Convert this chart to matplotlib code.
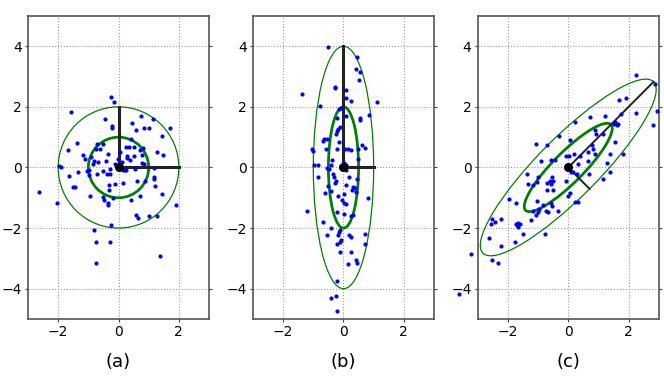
import numpy as np
import matplotlib.pyplot as plt
from matplotlib.patches import Ellipse

# panel (a): isotropic cloud
ax_x = [-0.26, -0.14, -1.59, -0.46, -0.20, -0.20, 0.45, 0.74, 1.14, 1.71, 0.59, 0.86, 1.01,
        1.44, -1.38, -1.66, -0.73, -0.53, -0.60, 0.43, 0.26, 0.36, 0.51, 0.82, 0.71, 1.29,
        1.49, -1.19, -1.10, -0.90, -0.74, -0.35, 0.05, -0.03, 0.29, 0.29, 0.52, 0.37, 0.79,
        0.77, 0.86, 0.13, -0.12, -0.42, -0.69, -0.80, -0.84, -1.96, -1.91, -1.33, -1.05,
        -0.99, -0.97, -0.73, -0.51, -0.37, -0.27, -0.29, 0.14, 0.20, 0.26, 0.56, 1.18, 1.18,
        1.18, -1.63, -1.51, -1.43, -0.32, -0.12, 0.14, 0.62, 0.87, 1.22, -0.32, -0.95, -0.52,
        -0.48, -0.18, 0.70, 0.43, -0.34, -0.36, 1.45, 1.91, -2.63, -2.05, 0.59, 0.65, 1.00,
        1.27, -0.25, -0.82, -0.74, -0.29, -0.75, 1.38]
ay_y = [2.33, 2.17, 1.82, 1.61, 1.38, 1.29, 1.48, 1.70, 1.61, 1.29, 1.25, 1.29, 1.29,
        1.04, 0.81, 0.56, 0.78, 0.78, 0.61, 0.93, 0.69, 0.69, 0.69, 0.64, 0.59, 0.50,
        0.41, 0.40, 0.27, 0.36, 0.60, 0.44, 0.51, 0.28, 0.38, 0.31, 0.38, 0.24, 0.42,
        0.14, 0.13, 0.18, 0.12, 0.20, 0.19, 0.22, 0.12, 0.04, 0.03, -0.14, -0.11,
        -0.09, -0.25, -0.22, -0.11, -0.20, -0.20, -0.05, -0.08, -0.10, -0.10, -0.05, -0.03, -0.30,
        -0.38, -0.28, -0.64, -0.64, -0.59, -0.55, -0.51, -0.45, -0.46, -0.61, -0.76, -0.93, -0.98,
        -1.08, -1.02, -0.95, -1.09, -1.17, -1.25, -0.87, -1.24, -0.80, -1.16, -1.57, -1.68, -1.61,
        -1.60, -1.91, -2.06, -2.45, -2.45, -3.15, -2.93]

# panel (b): stretched along y
bx_x = [-0.51, 0.46, 0.43, 0.56, 0.53, -0.29, -0.29, 0.09, -1.37, 0.09, 0.26, 1.12, -0.78,
        -0.15, -0.09, 0.07, 0.85, -0.20, 0.56, 0.55, -0.11, -0.18, -0.22, -0.24, -0.66, -0.53,
        -0.69, -0.16, 0.62, -0.59, -0.21, 0.04, 0.14, 0.24, 0.49, 0.71, -1.04, -1.02, 0.47,
        -0.37, -0.99, -0.85, -0.40, -0.54, -0.48, 0.03, 0.09, 0.09, 0.18, -0.86, -0.34, -0.30,
        -0.26, -0.27, 0.46, 0.07, -0.51, 0.33, 0.37, 0.40, 0.29, -0.62, -0.40, 0.02, -0.18,
        0.81, -0.05, 0.03, 0.08, -1.20, -0.21, 0.03, 0.24, 0.31, -0.69, -0.42, -0.11, -0.15,
        -0.55, -0.18, 0.18, 0.26, 0.70, 0.70, -0.07, -0.11, -0.21, -0.12, 0.25, 0.40, 0.46,
        0.15, -0.20, -0.40, -0.25, -0.22]
by_y = [3.96, 3.65, 3.24, 3.15, 2.88, 2.66, 2.62, 2.54, 2.44, 2.30, 2.19, 2.15, 2.04,
        1.94, 1.97, 1.71, 1.73, 1.64, 1.64, 1.56, 1.33, 1.26, 1.19, 1.12, 0.95, 0.93,
        0.86, 0.83, 0.73, 0.62, 0.61, 0.62, 0.61, 0.56, 0.61, 0.64, 0.60, 0.54, 0.28,
        0.24, 0.09, 0.07, 0.09, -0.02, -0.06, 0.14, 0.07, -0.09, -0.30, -0.31, -0.23, -0.30,
        -0.45, -0.50, -0.38, -0.57, -0.60, -0.63, -0.69, -0.81, -0.76, -0.83, -0.77, -0.88, -0.95,
        -1.01, -1.07, -1.17, -1.22, -1.45, -1.47, -1.52, -1.59, -1.58, -1.81, -2.01, -2.06, -2.14,
        -2.22, -2.24, -2.23, -2.28, -2.19, -2.54, -2.40, -2.46, -2.53, -2.80, -2.78, -3.06, -3.16,
        -3.19, -3.76, -4.32, -4.24, -4.75]

# panel (c): correlated
cx_x = [2.24, 2.87, 1.93, 1.67, 2.95, 2.23, 1.76, 1.23, 0.72, 1.56, 1.62, 1.66, 1.50, 0.22,
        2.80, -0.31, 1.16, 0.88, 0.91, 0.07, -1.08, -0.70, 0.78, 0.82, 1.54, 0.19, -0.06, 0.04,
        0.38, 0.66, 0.90, 1.37, 1.83, -0.56, -0.44, -0.90, 0.32, 0.66, 1.28, 0.09, 0.15, 0.28,
        0.70, 1.40, 1.16, -0.06, -1.37, -1.33, -1.18, -1.01, -1.03, -0.70, -0.62, -0.56, -0.49,
        -0.54, -0.50, -0.69, 0.07, -0.02, -1.98, -1.73, -1.04, -0.85, -0.56, -0.54, 0.22, 0.32,
        -0.98, -1.18, -0.99, -0.74, -0.67, -0.34, -1.08, -1.25, -2.54, -2.23, -2.42, -2.56, -1.73,
        -1.65, -1.70, -1.60, -1.68, -1.51, -0.78, -2.64, -1.78, -2.22, -3.22, -2.52, -2.32, -3.62]
cy_y = [3.06, 2.75, 2.30, 2.21, 1.86, 1.81, 1.76, 1.69, 1.65, 1.50, 1.41, 1.43, 1.44, 1.51,
        1.39, 1.03, 1.09, 1.23, 1.12, 0.92, 0.76, 0.74, 0.73, 0.62, 0.83, 0.46, 0.39, 0.39,
        0.38, 0.50, 0.45, 0.45, 0.46, 0.23, 0.25, 0.21, 0.11, 0.21, 0.15, -0.14, -0.14, -0.21,
        -0.22, -0.15, -0.38, -0.44, -0.22, -0.55, -0.57, -0.32, -0.48, -0.52, -0.46, -0.53, -0.45,
        -0.31, -0.74, -0.73, -0.83, -0.94, -1.03, -1.18, -1.10, -1.23, -1.17, -1.27, -1.15, -1.13,
        -1.36, -1.43, -1.48, -1.43, -1.48, -1.43, -1.57, -1.72, -1.70, -1.70, -1.81, -1.86, -1.86,
        -1.82, -1.90, -1.88, -1.96, -2.20, -2.20, -2.32, -2.46, -2.59, -2.86, -3.07, -3.15, -4.17]

labels = ["(a)", "(b)", "(c)"]
# (semi-axis 1, semi-axis 2, angle in degrees) of the unit ellipse
shapes = [(1.0, 1.0, 0.0), (0.5, 2.0, 0.0), (2.0, 0.5, 45.0)]

fig = plt.figure(figsize=(6.64, 3.89), dpi=100)
lefts = [0.0422, 0.381, 0.7195]
data = [(ax_x, ay_y), (bx_x, by_y), (cx_x, cy_y)]

for i in range(3):
    ax = fig.add_axes([lefts[i], 0.18, 0.2726, 0.779])
    xs, ys = data[i]
    a, b, ang = shapes[i]
    for k, lw in [(1, 2.0), (2, 0.9)]:
        e = Ellipse((0, 0), 2 * k * a, 2 * k * b, angle=ang, fill=False,
                    edgecolor='green', lw=lw, zorder=2)
        ax.add_patch(e)
    t = np.deg2rad(ang)
    # principal axes drawn at twice the unit length
    lw_axis = 1.4 if i == 2 else 2.2
    ax.plot([0, 2 * a * np.cos(t)], [0, 2 * a * np.sin(t)], color='#222222', lw=lw_axis, zorder=3)
    if i == 2:
        ax.plot([0, 2 * b * np.sin(t)], [0, -2 * b * np.cos(t)], color='#222222', lw=lw_axis, zorder=3)
    else:
        ax.plot([0, 0], [0, 2 * b], color='#222222', lw=lw_axis, zorder=3)
    ax.plot(xs, ys, '.', color='blue', ms=4, clip_on=False, zorder=4)
    ax.plot([0], [0], 'o', color='black', ms=5.5, zorder=5)
    ax.set_xlim(-3, 3)
    ax.set_ylim(-5, 5)
    ax.set_xticks([-2, 0, 2])
    ax.set_yticks([-4, -2, 0, 2, 4])
    ax.grid(True, linestyle=':', color='#999999', lw=0.8)
    ax.tick_params(direction='out', right=True, labelsize=10, length=2.5, pad=2,
                   color='#444444')
    for s in ax.spines.values():
        s.set_color('#555555')
        s.set_linewidth(1.2)
    ax.set_xlabel(labels[i], fontsize=13, labelpad=10)

plt.savefig('out.png', dpi=100)
